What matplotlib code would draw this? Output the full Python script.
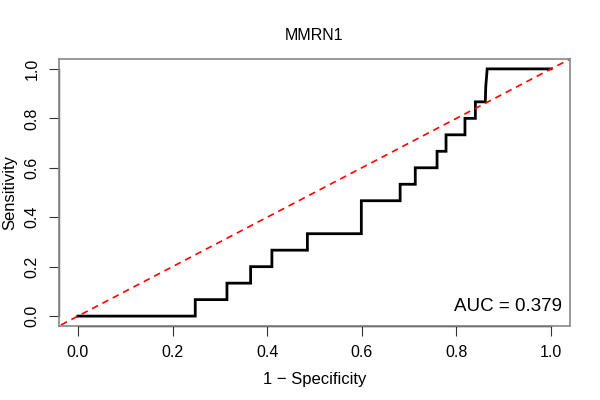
import numpy as np
import matplotlib
matplotlib.use("Agg")
import matplotlib.pyplot as plt

plt.rcParams['font.family'] = ['Liberation Sans', 'DejaVu Sans']

# ROC curve: 1-specificity vs sensitivity (steps of 1/15)
fpr = [0.0, 0.155, 0.248, 0.248, 0.315, 0.315, 0.365, 0.365, 0.41, 0.41,
       0.485, 0.485, 0.599, 0.599, 0.681, 0.681, 0.713, 0.713, 0.759, 0.759,
       0.778, 0.778, 0.818, 0.818, 0.840, 0.840, 0.861, 0.862, 0.865, 1.0]
tpr = [0.0, 0.0, 0.0, 0.0667, 0.0667, 0.1333, 0.1333, 0.2, 0.2, 0.2667,
       0.2667, 0.3333, 0.3333, 0.4667, 0.4667, 0.5333, 0.5333, 0.6, 0.6, 0.6667,
       0.6667, 0.7333, 0.7333, 0.8, 0.8, 0.8667, 0.8667, 0.93, 1.0, 1.0]
auc_label = "AUC = 0.379"
title = "MMRN1"
ticks = [0.0, 0.2, 0.4, 0.6, 0.8, 1.0]

fig = plt.figure(figsize=(6, 4), dpi=100)
ax = fig.add_axes([0.0983, 0.185, 0.8517, 0.6675])

ax.plot(fpr, tpr, color='black', lw=2, solid_joinstyle='miter')
ax.plot([-1, 2], [-1, 2], color='red', lw=1.2, ls=(0, (4, 3)))

ax.set_xlim(-0.04, 1.04)
ax.set_ylim(-0.04, 1.04)
ax.set_xticks(ticks)
ax.set_yticks(ticks)
ax.set_xticklabels([f"{t:.1f}" for t in ticks], fontsize=11.5)
ax.set_yticklabels([f"{t:.1f}" for t in ticks], fontsize=11.5, rotation=90, va='center')
ax.tick_params(length=7, width=0.8, pad=7, color='#333333')

for s in ax.spines.values():
    s.set_color('#888888')
    s.set_linewidth(1.2)

# R-style axis lines between first and last tick
ax.plot([0, 1], [-0.04, -0.04], color='black', lw=1, clip_on=False)
ax.plot([-0.04, -0.04], [0, 1], color='#555555', lw=1, clip_on=False)

ax.text(1.023, 0.02, auc_label, fontsize=13.5, ha='right', va='baseline')
ax.set_xlabel("1 \u2212 Specificity", fontsize=12, labelpad=8)
ax.set_ylabel("Sensitivity", fontsize=12, labelpad=5)
ax.set_title(title, fontsize=11.5, pad=14)

fig.savefig("out.png", dpi=100)
